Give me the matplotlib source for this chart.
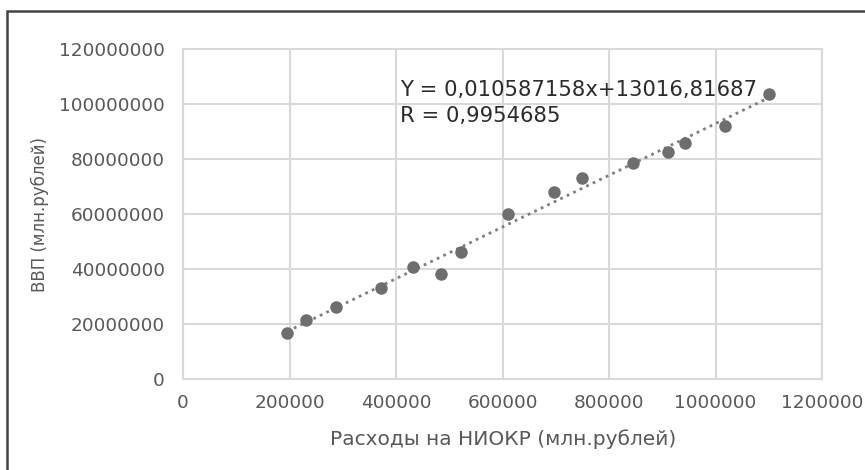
import numpy as np
import matplotlib
matplotlib.use("Agg")
import matplotlib.pyplot as plt
import matplotlib.patches as patches
from matplotlib.ticker import FuncFormatter

# R&D spending vs GDP (mln rubles)
rnd_spending = [196000, 231000, 287000, 372000, 431000, 484000, 522000, 610000,
                697000, 750000, 845000, 911000, 943000, 1017000, 1101000]
gdp = [16.8e6, 21.5e6, 26.3e6, 33.1e6, 40.8e6, 38.2e6, 46.1e6, 60.1e6,
       67.9e6, 73.0e6, 78.5e6, 82.6e6, 85.9e6, 92.0e6, 103.7e6]

x_ticks = [0, 200000, 400000, 600000, 800000, 1000000, 1200000]
y_ticks = [0, 20000000, 40000000, 60000000, 80000000, 100000000, 120000000]

equation_text = "Y = 0,010587158x+13016,81687"
r_text = "R = 0,9954685"
x_label = "Расходы на НИОКР (млн.рублей)"
y_label = "ВВП (млн.рублей)"

grid_color = "#d9d9d9"
tick_color = "#595959"
point_color = "#6e6e6e"

fig = plt.figure(figsize=(8.65, 4.70), dpi=100)
ax = fig.add_axes([183 / 865, 1 - 379 / 470, 639 / 865, 330 / 470])

# linear trendline over the data range
coef = np.polyfit(rnd_spending, gdp, 1)
trend_x = np.array([min(rnd_spending), max(rnd_spending)])
trend_y = np.polyval(coef, trend_x)
ax.plot(trend_x, trend_y, linestyle=(0, (1, 1.6)), color="#7f7f7f", linewidth=2.0, zorder=2)

ax.plot(rnd_spending, gdp, "o", color=point_color, markersize=9, markeredgewidth=0, zorder=3)

ax.set_xlim(0, 1200000)
ax.set_ylim(0, 120000000)
ax.set_xticks(x_ticks)
ax.set_yticks(y_ticks)
fmt = FuncFormatter(lambda v, pos: "{0:d}".format(int(round(v))))
ax.xaxis.set_major_formatter(fmt)
ax.yaxis.set_major_formatter(fmt)
ax.grid(True, color=grid_color, linewidth=1.5)
ax.set_axisbelow(True)
for spine in ax.spines.values():
    spine.set_color(grid_color)
    spine.set_linewidth(1.5)
ax.tick_params(axis="both", length=0, labelsize=13.3, labelcolor=tick_color)
ax.tick_params(axis="x", pad=11)
ax.tick_params(axis="y", pad=13)

ax.set_xlabel(x_label, fontsize=14.5, color=tick_color)
ax.set_ylabel(y_label, fontsize=12, color=tick_color)
ax.xaxis.label.set_va("center")
ax.yaxis.label.set_va("center")
ax.xaxis.set_label_coords((503 - 183) / 639, (379 - 439) / 330)
ax.yaxis.set_label_coords((40 - 183) / 639, (379 - 215) / 330)

ax.text((400 - 183) / 639, (379 - 96) / 330, equation_text, transform=ax.transAxes,
        fontsize=15.2, color="#2b2b2b", va="baseline", ha="left")
ax.text((400 - 183) / 639, (379 - 122) / 330, r_text, transform=ax.transAxes,
        fontsize=15.2, color="#2b2b2b", va="baseline", ha="left")

# frame around the figure (right and bottom edges are cut off)
frame = patches.Rectangle((7 / 865, -0.1), 1.2, 0.1 + 1 - 11 / 470, transform=fig.transFigure,
                          fill=False, edgecolor="#444444", linewidth=1.8, clip_on=False)
fig.patches.append(frame)

fig.savefig("out.png", dpi=100)
